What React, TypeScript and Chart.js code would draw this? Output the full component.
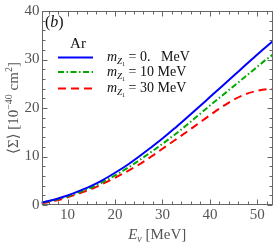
import React, { useEffect, useRef } from "react";
import { Chart, registerables } from "chart.js";

Chart.register(...registerables);

// ---- data ----
const energies = [4.5, 7.5, 10, 12.5, 15, 17.5, 20, 22.5, 25, 27.5, 30, 32.5, 35, 37.5, 40, 42.5, 45, 47.5, 50, 52, 53.3];
const sigmaM0 = [0.5, 1.2, 1.95, 2.9, 3.95, 5.2, 6.65, 8.2, 9.95, 11.8, 13.7, 15.75, 17.9, 20.05, 22.25, 24.45, 26.65, 28.85, 31.05, 32.75, 33.8];
const sigmaM10 = [0.45, 1.1, 1.8, 2.65, 3.6, 4.75, 6.1, 7.55, 9.15, 10.85, 12.6, 14.45, 16.4, 18.45, 20.5, 22.5, 24.5, 26.5, 28.5, 30.1, 31.0];
const sigmaM30 = [0.3, 0.9, 1.6, 2.4, 3.3, 4.4, 5.6, 6.9, 8.3, 9.9, 11.6, 13.3, 15.0, 16.75, 18.5, 20.2, 21.7, 22.85, 23.55, 23.85, 23.9];
const massLabels = ["0.", "10", "30"];
const xMajorTicks = [10, 20, 30, 40, 50];
const xMinorTicks = [6, 8, 12, 14, 16, 18, 22, 24, 26, 28, 32, 34, 36, 38, 42, 44, 46, 48, 52];
const yMajorTicks = [0, 10, 20, 30, 40];
const yMinorTicks = [2, 4, 6, 8, 12, 14, 16, 18, 22, 24, 26, 28, 32, 34, 36, 38];
const legendTitle = "Ar";
const panelLetter = "b";

const SERIF = '"Liberation Serif", "DejaVu Serif", serif';

const seriesStyles = [
  { color: "#0000ff", dash: [] as number[] },
  { color: "#00aa00", dash: [6, 2.5, 1.5, 2.5] },
  { color: "#ff0000", dash: [8, 5] },
];

const decorPlugin = {
  id: "decor",
  afterDraw(chart: any) {
    const ctx: CanvasRenderingContext2D = chart.ctx;
    const { left, right, top, bottom } = chart.chartArea;
    const xs = chart.scales.x;
    const ys = chart.scales.y;
    ctx.save();
    ctx.strokeStyle = "#666";
    ctx.lineWidth = 1;
    const L = Math.round(left) + 0.5;
    const R = Math.round(right) - 0.5;
    const T = Math.round(top) + 0.5;
    const B = Math.round(bottom) - 0.5;
    ctx.strokeRect(L, T, R - L, B - T);
    const seg = (x1: number, y1: number, x2: number, y2: number) => {
      ctx.beginPath();
      ctx.moveTo(x1, y1);
      ctx.lineTo(x2, y2);
      ctx.stroke();
    };
    const xt = (v: number, len: number) => {
      const px = Math.round(xs.getPixelForValue(v)) + 0.5;
      seg(px, B, px, B - len);
      seg(px, T, px, T + len);
    };
    const yt = (v: number, len: number) => {
      const py = Math.round(ys.getPixelForValue(v)) + 0.5;
      seg(L, py, L + len, py);
      seg(R, py, R - len, py);
    };
    xMajorTicks.forEach((v) => xt(v, 5));
    xMinorTicks.forEach((v) => xt(v, 3));
    yMajorTicks.forEach((v) => yt(v, 5));
    yMinorTicks.forEach((v) => yt(v, 3));

    // x axis title: E_nu [MeV]
    ctx.fillStyle = "#555";
    ctx.textBaseline = "alphabetic";
    ctx.textAlign = "left";
    const big = `15px ${SERIF}`;
    const bigIt = `italic 15px ${SERIF}`;
    const subIt = `italic 10px ${SERIF}`;
    const supF = `10px ${SERIF}`;
    const parts1 = [
      { t: "E", f: bigIt, dy: 0 },
      { t: "ν", f: subIt, dy: 3 },
      { t: " [MeV]", f: big, dy: 0 },
    ];
    const widthOf = (parts: any[]) =>
      parts.reduce((s, p) => {
        ctx.font = p.f;
        return s + ctx.measureText(p.t).width;
      }, 0);
    const drawParts = (parts: any[], x0: number, y0: number) => {
      let x = x0;
      parts.forEach((p) => {
        ctx.font = p.f;
        ctx.fillText(p.t, x, y0 + p.dy);
        x += ctx.measureText(p.t).width;
      });
    };
    const cx = (left + right) / 2;
    drawParts(parts1, cx - widthOf(parts1) / 2, 239);

    // y axis title
    const parts2 = [
      { t: "⟨Σ⟩ [10", f: big, dy: 0 },
      { t: "−40", f: supF, dy: -6 },
      { t: " cm", f: big, dy: 0 },
      { t: "2", f: supF, dy: -6 },
      { t: "]", f: big, dy: 0 },
    ];
    ctx.save();
    ctx.translate(18, (top + bottom) / 2);
    ctx.rotate(-Math.PI / 2);
    drawParts(parts2, -widthOf(parts2) / 2, 0);
    ctx.restore();

    // panel label (b)
    ctx.fillStyle = "#111";
    drawParts(
      [
        { t: "(", f: `16px ${SERIF}`, dy: 0 },
        { t: panelLetter, f: `italic 16px ${SERIF}`, dy: 0 },
        { t: ")", f: `16px ${SERIF}`, dy: 0 },
      ],
      45,
      27
    );

    // legend
    ctx.font = big;
    ctx.textAlign = "center";
    ctx.fillText(legendTitle, 78, 48);
    ctx.textAlign = "left";
    const baselines = [61, 75.5, 92];
    chart.data.datasets.forEach((ds: any, i: number) => {
      const by = baselines[i];
      const ly = by - 3.5;
      ctx.save();
      ctx.strokeStyle = ds.borderColor;
      ctx.lineWidth = 2;
      ctx.setLineDash(ds.borderDash || []);
      seg(58, ly, 93, ly);
      ctx.restore();
      ctx.fillStyle = "#111";
      drawParts(
        [
          { t: "m", f: `italic 14px ${SERIF}`, dy: 0 },
          { t: "Z", f: `italic 9px ${SERIF}`, dy: 3 },
          { t: "1", f: `6px ${SERIF}`, dy: 5 },
          { t: " = " + massLabels[i] + (i === 0 ? "   " : " ") + "MeV", f: `14px ${SERIF}`, dy: 0 },
        ],
        107,
        by
      );
    });
    ctx.restore();
  },
};

export default function App() {
  const ref = useRef<HTMLCanvasElement | null>(null);
  useEffect(() => {
    if (!ref.current) return;
    const mk = (vals: number[]) => energies.map((e, i) => ({ x: e, y: vals[i] }));
    const all = [sigmaM0, sigmaM10, sigmaM30];
    const chart = new Chart(ref.current, {
      type: "line",
      data: {
        datasets: all.map((vals, i) => ({
          label: `m_Z1 = ${massLabels[i]} MeV`,
          data: mk(vals),
          borderColor: seriesStyles[i].color,
          borderDash: seriesStyles[i].dash,
          borderWidth: 2,
          pointRadius: 0,
          fill: false,
          cubicInterpolationMode: "monotone" as const,
        })),
      },
      options: {
        animation: false,
        responsive: false,
        maintainAspectRatio: false,
        layout: { padding: { left: 0, right: 2, top: 7, bottom: 0 } },
        plugins: { legend: { display: false }, tooltip: { enabled: false } },
        scales: {
          x: {
            type: "linear",
            min: 4.5,
            max: 53.3,
            grid: { display: false, drawTicks: false },
            border: { display: false },
            ticks: { font: { family: SERIF, size: 15 }, color: "#555", padding: 1, maxRotation: 0 },
            afterBuildTicks: (s: any) => {
              s.ticks = xMajorTicks.map((v) => ({ value: v }));
            },
            afterFit: (s: any) => {
              s.height = 39;
            },
          },
          y: {
            type: "linear",
            min: 0,
            max: 40,
            grid: { display: false, drawTicks: false },
            border: { display: false },
            ticks: { font: { family: SERIF, size: 15 }, color: "#555", padding: 2 },
            afterBuildTicks: (s: any) => {
              s.ticks = yMajorTicks.map((v) => ({ value: v }));
            },
            afterFit: (s: any) => {
              s.width = 41.5;
            },
          },
        },
      },
      plugins: [decorPlugin],
    } as any);
    return () => chart.destroy();
  }, []);
  return (
    <div style={{ position: "fixed", left: 0, top: 0, width: 275, height: 244, background: "#fff" }}>
      <canvas ref={ref} width={275} height={244} />
    </div>
  );
}
